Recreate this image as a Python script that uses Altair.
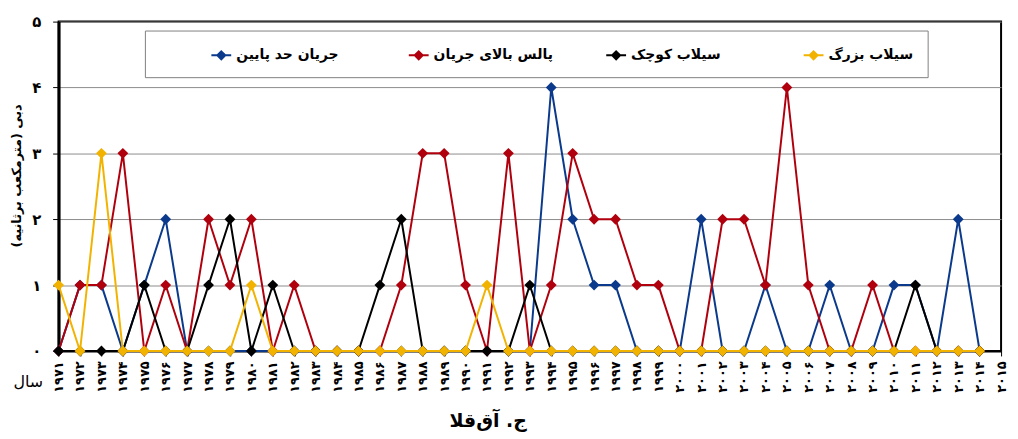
import altair as alt
import pandas as pd

# ---- data ----
years = list(range(1971, 2015))
low_flow = [0, 1, 1, 0, 1, 2, 0, 0, 0, 0, 0, 0, 0, 0, 0, 0, 0, 0, 0, 0, 0, 0,
            0, 4, 2, 1, 1, 0, 0, 0, 2, 0, 0, 1, 0, 0, 1, 0, 0, 1, 1, 0, 2, 0]
high_pulse = [0, 1, 1, 3, 0, 1, 0, 2, 1, 2, 0, 1, 0, 0, 0, 0, 1, 3, 3, 1, 0, 3,
              0, 1, 3, 2, 2, 1, 1, 0, 0, 2, 2, 1, 4, 1, 0, 0, 1, 0, 0, 0, 0, 0]
small_flood = [0, 0, 0, 0, 1, 0, 0, 1, 2, 0, 1, 0, 0, 0, 0, 1, 2, 0, 0, 0, 0, 0,
               1, 0, 0, 0, 0, 0, 0, 0, 0, 0, 0, 0, 0, 0, 0, 0, 0, 0, 1, 0, 0, 0]
large_flood = [1, 0, 3, 0, 0, 0, 0, 0, 0, 1, 0, 0, 0, 0, 0, 0, 0, 0, 0, 0, 1, 0,
               0, 0, 0, 0, 0, 0, 0, 0, 0, 0, 0, 0, 0, 0, 0, 0, 0, 0, 0, 0, 0, 0]

series_names = ["جریان حد پایین", "پالس بالای جریان", "سیلاب کوچک", "سیلاب بزرگ"]
series_colors = ["#0b3a8c", "#b0000e", "#000000", "#f2b300"]
x_ticks = list(range(1971, 2016))
y_ticks = [0, 1, 2, 3, 4, 5]

rows = []
for name, vals in zip(series_names, [low_flow, high_pulse, small_flood, large_flood]):
    for yr, v in zip(years, vals):
        rows.append({"year": yr, "value": v, "series": name})
df = pd.DataFrame(rows)

persian = "۰۱۲۳۴۵۶۷۸۹"
digits_expr = "toString(datum.value)"
for i, ch in enumerate(persian):
    digits_expr = f"replace({digits_expr}, regexp('{i}', 'g'), '{ch}')"

FONT = "DejaVu Sans"

color = alt.Color(
    "series:N",
    scale=alt.Scale(domain=series_names, range=series_colors),
    legend=alt.Legend(
        title=None,
        orient="none",
        legendX=87,
        legendY=9,
        direction="horizontal",
        columns=4,
        gridAlign="all",
        columnPadding=0,
        padding=14,
        strokeColor="#7f7f7f",
        fillColor="white",
        symbolType="M-1,0L1,0M0,-0.4L0.4,0L0,0.4L-0.4,0Z",
        symbolSize=400,
        symbolStrokeWidth=2,
        symbolOffset=52,
        labelOffset=4,
        labelFont=FONT,
        labelFontSize=14,
        labelFontWeight="bold",
        labelColor="black",
        labelLimit=300,
    ),
)

x = alt.X(
    "year:Q",
    scale=alt.Scale(domain=[1971, 2015], nice=False, zero=False),
    axis=alt.Axis(
        values=x_ticks,
        labelExpr=digits_expr,
        labelAngle=270,
        labelFont=FONT,
        labelFontSize=13,
        labelFontWeight="bold",
        labelColor="black",
        labelPadding=5,
        labelOverlap=False,
        grid=False,
        domainColor="black",
        domainWidth=2,
        tickColor="black",
        tickSize=5,
        title="سال",
        titleFont=FONT,
        titleFontSize=16,
        titleFontWeight="normal",
        titleAngle=0,
        titleAlign="center",
        titleBaseline="middle",
        titleX=-31,
        titleY=31,
    ),
)

y = alt.Y(
    "value:Q",
    scale=alt.Scale(domain=[0, 5], nice=False),
    axis=alt.Axis(
        values=y_ticks,
        labelExpr=digits_expr,
        labelFont=FONT,
        labelFontSize=15,
        labelFontWeight="bold",
        labelColor="black",
        labelPadding=12,
        grid=True,
        gridColor="#8c8c8c",
        gridWidth=1,
        domainColor="black",
        domainWidth=3,
        tickColor="black",
        tickSize=6,
        title="دبی (مترمکعب برثانیه)\u200f",
        titleFont=FONT,
        titleFontSize=13,
        titleFontWeight="bold",
        titleColor="black",
        titleAngle=270,
        titleAlign="center",
        titleBaseline="middle",
        titleX=-42,
        titleY=155,
    ),
)

layers = []
for name in series_names:
    layers.append(
        alt.Chart(df)
        .transform_filter(alt.datum.series == name)
        .mark_line(
            strokeWidth=2,
            point=alt.OverlayMarkDef(shape="diamond", size=120, filled=True, opacity=1),
        )
        .encode(x=x, y=y, color=color)
    )

chart = (
    alt.layer(*layers)
    .properties(
        width=950,
        height=332,
        autosize=alt.AutoSizeParams(type="none"),
        padding={"left": 51, "top": 12, "right": 9, "bottom": 87},
        title=alt.TitleParams(
            "ج. آق\u200cقلا",
            orient="bottom",
            anchor="middle",
            font=FONT,
            fontSize=19,
            fontWeight="bold",
            color="black",
            offset=20,
            dx=-42,
        ),
    )
    .configure_view(stroke="black", strokeWidth=2)
)

chart.save("out.html", embed_options={"renderer": "svg", "actions": False})
